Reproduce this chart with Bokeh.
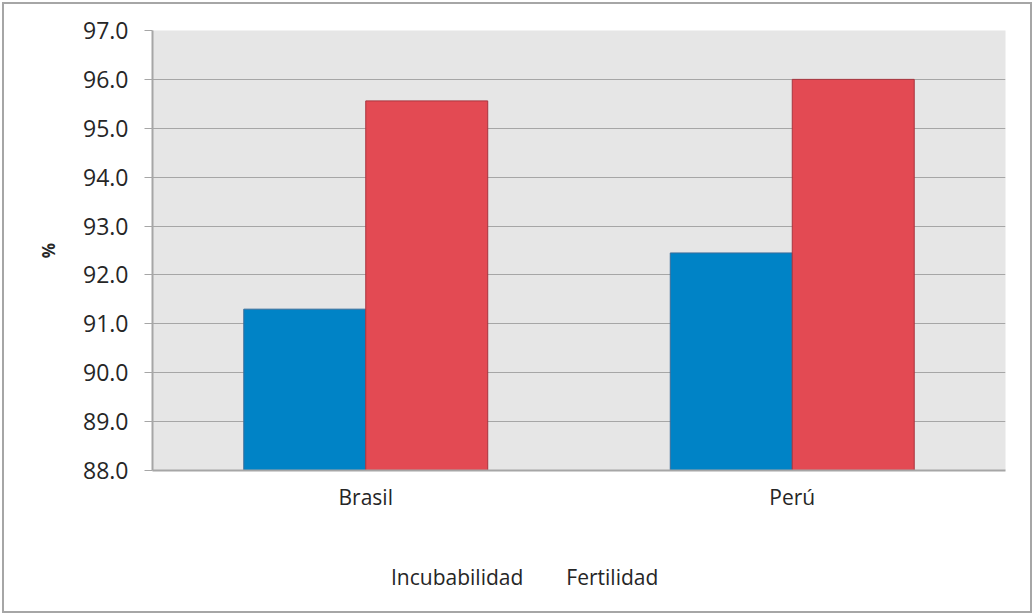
from bokeh.plotting import figure
from bokeh.layouts import column
from bokeh.models import (FactorRange, Range1d, FixedTicker, ColumnDataSource,
                          Legend, LegendItem, NumeralTickFormatter, CDSView,
                          IndexFilter)
from bokeh.transform import dodge
from bokeh.embed import file_html
from bokeh.resources import INLINE

categories = ["Brasil", "Perú"]
incubabilidad = [91.30, 92.45]
fertilidad = [95.56, 96.00]
series_names = ["Incubabilidad", "Fertilidad"]
series_fill = ["#0083C6", "#E34A53"]
series_line = ["#3A6E9B", "#A8343E"]
y_ticks = [88, 89, 90, 91, 92, 93, 94, 95, 96, 97]

FONT = "Open Sans"
TXT = "#262626"
GRID = "#A6A6A6"

src = ColumnDataSource(dict(cat=categories, inc=incubabilidad, fer=fertilidad))

p = figure(width=1026, height=530, x_range=FactorRange(*categories),
           y_range=Range1d(88, 97), output_backend="svg", toolbar_location=None,
           min_border_left=148, min_border_right=25, min_border_top=26,
           min_border_bottom=64)
p.background_fill_color = "#E6E6E6"
p.border_fill_color = "white"
p.outline_line_color = None

bw = 0.286
r1 = p.vbar(x=dodge("cat", -bw / 2, range=p.x_range), top="inc", bottom=88, width=bw,
            source=src, fill_color=series_fill[0], line_color=series_line[0], line_width=1)
r2 = p.vbar(x=dodge("cat", bw / 2, range=p.x_range), top="fer", bottom=88, width=bw,
            source=src, fill_color=series_fill[1], line_color=series_line[1], line_width=1)

p.xgrid.grid_line_color = None
p.ygrid.grid_line_color = GRID
p.ygrid.grid_line_width = 1.2
p.ygrid.ticker = FixedTicker(ticks=y_ticks)

ya = p.yaxis[0]
ya.ticker = FixedTicker(ticks=y_ticks)
ya.formatter = NumeralTickFormatter(format="0.0")
ya.major_tick_out = 8
ya.major_tick_in = 0
ya.minor_tick_line_color = None
ya.major_tick_line_color = GRID
ya.axis_line_color = GRID
ya.axis_line_width = 2
ya.major_label_text_font = FONT
ya.major_label_text_font_size = "23px"
ya.major_label_text_color = TXT
ya.major_label_standoff = 16
ya.axis_label = "%"
ya.axis_label_text_font = FONT
ya.axis_label_text_font_size = "17px"
ya.axis_label_text_font_style = "bold"
ya.axis_label_text_color = TXT
ya.axis_label_standoff = 20

xa = p.xaxis[0]
xa.major_tick_out = 0
xa.major_tick_in = 0
xa.axis_line_color = GRID
xa.axis_line_width = 2
xa.major_label_text_font = FONT
xa.major_label_text_font_size = "21px"
xa.major_label_text_color = TXT
xa.major_label_standoff = 12

# legend strip below the chart (its renderers draw no bars: empty view)
p2 = figure(width=1026, height=77, output_backend="svg", toolbar_location=None,
            x_axis_location=None, y_axis_location=None,
            min_border_left=148, min_border_right=25, min_border_top=0,
            min_border_bottom=0, x_range=p.x_range, y_range=Range1d(0, 1))
p2.xgrid.grid_line_color = None
p2.ygrid.grid_line_color = None
p2.outline_line_color = None
p2.background_fill_color = "white"
p2.border_fill_color = "white"
empty_view = CDSView(filter=IndexFilter(indices=[]))
e1 = p2.vbar(x=dodge("cat", -bw / 2, range=p.x_range), top="inc", bottom=88, width=bw,
             source=src, view=empty_view, fill_color=series_fill[0],
             line_color=series_line[0], line_width=1)
e2 = p2.vbar(x=dodge("cat", bw / 2, range=p.x_range), top="fer", bottom=88, width=bw,
             source=src, view=CDSView(filter=IndexFilter(indices=[])),
             fill_color=series_fill[1], line_color=series_line[1], line_width=1)

legend = Legend(items=[LegendItem(label=series_names[0], renderers=[e1]),
                       LegendItem(label=series_names[1], renderers=[e2])],
                orientation="horizontal", location=(220, 20),
                label_text_font=FONT, label_text_font_size="21px",
                label_text_color=TXT, glyph_width=13, glyph_height=13,
                label_standoff=6, spacing=24, padding=0, margin=0,
                border_line_color=None, background_fill_alpha=0)
p2.add_layout(legend, "center")

layout = column(p, p2, spacing=0,
                styles={"border": "2px solid #A6A6A6", "margin-left": "2px",
                        "margin-top": "2px"})

open("out.html", "w").write(file_html(layout, INLINE))
